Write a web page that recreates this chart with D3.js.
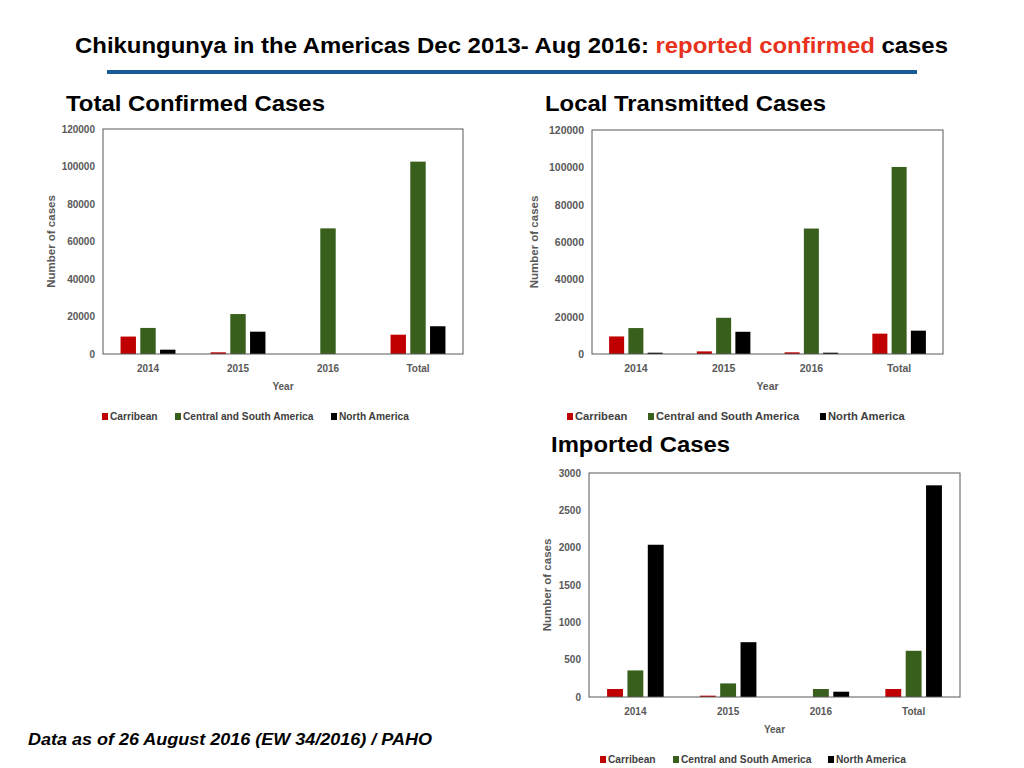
<!DOCTYPE html>
<html>
<head>
<meta charset="utf-8">
<script src="https://cdn.jsdelivr.net/npm/d3@7"></script>
<style>
  body { margin: 0; background: #fff; }
  text { font-family: "Liberation Sans", Arial, sans-serif; }
</style>
</head>
<body>
<div id="chart"></div>
<script>
// Values
const categories = ["2014", "2015", "2016", "Total"];
const seriesNames = ["Carribean", "Central and South America", "North America"];
const seriesColors = ["#c00000", "#38601c", "#000000"];

// Total confirmed cases
const totalCarribean = [9300, 900, 0, 10300];
const totalCentralSouth = [13900, 21300, 67000, 102600];
const totalNorth = [2300, 11900, 0, 14800];

// Local transmitted cases
const localCarribean = [9400, 1400, 900, 10900];
const localCentralSouth = [13900, 19400, 67200, 100200];
const localNorth = [700, 11900, 700, 12500];

// Imported cases
const importedCarribean = [107, 18, 0, 107];
const importedCentralSouth = [356, 182, 107, 619];
const importedNorth = [2039, 734, 71, 2835];

const width = 1024;
const height = 768;

const svg = d3.select("#chart")
              .append("svg")
              .attr("width", width)
              .attr("height", height);

// Header
const title = svg.append("text")
   .attr("x", 75)
   .attr("y", 53)
   .attr("textLength", 873)
   .attr("lengthAdjust", "spacingAndGlyphs")
   .style("font-size", "22px")
   .style("font-weight", "bold");
title.append("tspan").text("Chikungunya in the Americas Dec 2013- Aug 2016: ");
title.append("tspan").attr("fill", "#e8321e").text("reported confirmed");
title.append("tspan").text(" cases");

svg.append("line")
   .attr("x1", 107).attr("x2", 917)
   .attr("y1", 72).attr("y2", 72)
   .attr("stroke", "#1a5a96")
   .attr("stroke-width", 4);

// Footer note
svg.append("text")
   .attr("x", 28)
   .attr("y", 745)
   .attr("textLength", 404)
   .attr("lengthAdjust", "spacingAndGlyphs")
   .style("font-size", "16px")
   .style("font-weight", "bold")
   .style("font-style", "italic")
   .text("Data as of 26 August 2016 (EW 34/2016) / PAHO");

function drawChart(cfg) {
  const g = svg.append("g");
  const w = cfg.x1 - cfg.x0;
  const h = cfg.y1 - cfg.y0;

  g.append("text")
   .attr("x", cfg.titleX)
   .attr("y", cfg.titleY)
   .attr("textLength", cfg.titleLen)
   .attr("lengthAdjust", "spacingAndGlyphs")
   .style("font-size", "22px")
   .style("font-weight", "bold")
   .text(cfg.title);

  const x = d3.scaleBand()
              .domain(categories)
              .range([cfg.x0, cfg.x1])
              .paddingInner(0.39)
              .paddingOuter(0.195);

  const xSub = d3.scaleBand()
                 .domain(seriesNames)
                 .range([0, x.bandwidth()])
                 .paddingInner(0.22);

  const y = d3.scaleLinear()
              .domain([0, cfg.max])
              .range([cfg.y1, cfg.y0]);

  // y tick labels
  const yAxis = d3.axisLeft(y)
                  .tickValues(d3.range(0, cfg.max + 1, cfg.step))
                  .tickSize(0)
                  .tickPadding(8)
                  .tickFormat(d3.format("d"));
  const ya = g.append("g")
              .attr("transform", `translate(${cfg.x0},0)`)
              .call(yAxis);
  ya.select(".domain").remove();
  ya.selectAll("text")
    .style("font-family", "'Liberation Sans', Arial, sans-serif")
    .style("font-size", cfg.tickSize + "px")
    .style("font-weight", "bold")
    .attr("fill", "#595959");

  // x category labels
  const xAxis = d3.axisBottom(x).tickSize(0).tickPadding(11);
  const xa = g.append("g")
              .attr("transform", `translate(0,${cfg.y1})`)
              .call(xAxis);
  xa.select(".domain").remove();
  xa.selectAll("text")
    .style("font-family", "'Liberation Sans', Arial, sans-serif")
    .style("font-size", cfg.tickSize + "px")
    .style("font-weight", "bold")
    .attr("fill", "#595959");

  // bars
  const rows = categories.map((c, i) => ({
    cat: c,
    vals: cfg.series.map((s, j) => ({ name: seriesNames[j], value: s[i], color: seriesColors[j] }))
  }));

  g.append("g")
   .selectAll("g")
   .data(rows)
   .enter().append("g")
     .attr("transform", d => `translate(${x(d.cat)},0)`)
   .selectAll("rect")
   .data(d => d.vals)
   .enter().append("rect")
     .attr("x", d => xSub(d.name))
     .attr("width", xSub.bandwidth())
     .attr("y", d => y(d.value))
     .attr("height", d => cfg.y1 - y(d.value))
     .attr("fill", d => d.color);

  // plot frame
  g.append("rect")
   .attr("x", cfg.x0)
   .attr("y", cfg.y0)
   .attr("width", w)
   .attr("height", h)
   .attr("fill", "none")
   .attr("stroke", "#595959")
   .attr("stroke-width", 1);

  // axis titles
  g.append("text")
   .attr("transform", `translate(${cfg.yTitleX},${cfg.y0 + h / 2}) rotate(-90)`)
   .attr("text-anchor", "middle")
   .style("font-size", "11.5px")
   .style("font-weight", "bold")
   .attr("fill", "#595959")
   .text("Number of cases");

  g.append("text")
   .attr("x", cfg.x0 + w / 2)
   .attr("y", cfg.y1 + 36)
   .attr("text-anchor", "middle")
   .style("font-size", cfg.tickSize + "px")
   .style("font-weight", "bold")
   .attr("fill", "#595959")
   .text("Year");

  // legend
  const leg = g.append("g")
               .selectAll("g")
               .data(seriesNames)
               .enter().append("g")
                 .attr("transform", (d, i) => `translate(${cfg.legendX[i]},${cfg.legendY})`);
  leg.append("rect")
     .attr("x", 0).attr("y", -7)
     .attr("width", 6).attr("height", 7)
     .attr("fill", (d, i) => seriesColors[i]);
  leg.append("text")
     .attr("x", 8)
     .attr("y", 0)
     .style("font-size", cfg.legendSize + "px")
     .style("font-weight", "bold")
     .attr("fill", "#404040")
     .text(d => d);
}

drawChart({
  title: "Total Confirmed Cases", titleX: 66, titleY: 111, titleLen: 259,
  x0: 103, x1: 463, y0: 129, y1: 354,
  max: 120000, step: 20000, tickSize: 10,
  series: [totalCarribean, totalCentralSouth, totalNorth],
  yTitleX: 55,
  legendX: [102, 175, 331], legendY: 420, legendSize: 10.2
});

drawChart({
  title: "Local Transmitted Cases", titleX: 545, titleY: 111, titleLen: 281,
  x0: 592, x1: 943, y0: 130, y1: 354,
  max: 120000, step: 20000, tickSize: 10.5,
  series: [localCarribean, localCentralSouth, localNorth],
  yTitleX: 538,
  legendX: [567, 648, 820], legendY: 420, legendSize: 11.2
});

drawChart({
  title: "Imported Cases", titleX: 551, titleY: 452, titleLen: 179,
  x0: 589, x1: 960, y0: 473, y1: 697,
  max: 3000, step: 500, tickSize: 10,
  series: [importedCarribean, importedCentralSouth, importedNorth],
  yTitleX: 551,
  legendX: [600, 673, 828], legendY: 763, legendSize: 10.2
});
</script>
</body>
</html>
